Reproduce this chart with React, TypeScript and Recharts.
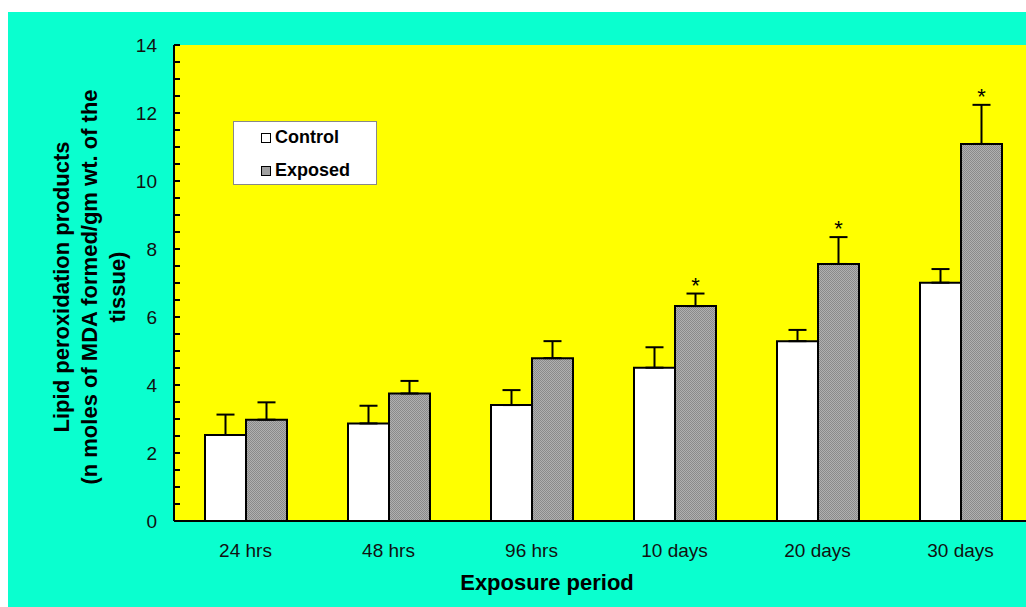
import { BarChart, Bar, XAxis, YAxis, CartesianGrid, ErrorBar, LabelList, Label } from "recharts";

// values
const categories = ['24 hrs', '48 hrs', '96 hrs', '10 days', '20 days', '30 days'];
const control = [2.53, 2.87, 3.41, 4.51, 5.29, 7.01];
const controlErr = [0.6, 0.52, 0.44, 0.6, 0.33, 0.4];
const exposed = [2.98, 3.75, 4.79, 6.32, 7.56, 11.09];
const exposedErr = [0.51, 0.37, 0.5, 0.37, 0.79, 1.15];
const significant = [false, false, false, true, true, true];
const yTicks = [0, 0.5, 1, 1.5, 2, 2.5, 3, 3.5, 4, 4.5, 5, 5.5, 6, 6.5, 7, 7.5, 8, 8.5, 9, 9.5, 10, 10.5, 11, 11.5, 12, 12.5, 13, 13.5, 14];
const yLabelLines = ['Lipid peroxidation products', '(n moles of MDA formed/gm wt. of the', 'tissue)'];
const legendItems = [
  { name: 'Control', fill: '#fff' },
  { name: 'Exposed', fill: '#a0a0a0' },
];

const data = categories.map((name, i) => ({
  name,
  control: control[i],
  controlErr: [0, controlErr[i]],
  exposed: exposed[i],
  exposedErr: [0, exposedErr[i]],
}));

const FONT = 'Arial, "Liberation Sans", sans-serif';

const YTick = (props: any) => {
  const { x, y, payload } = props;
  const major = payload.value % 2 === 0;
  return (
    <g>
      <line x1={x} x2={x + 6} y1={y} y2={y} stroke="#000" strokeWidth={2} />
      {major && (
        <text x={x - 17} y={y} dy="0.35em" textAnchor="end" fontSize={19} fontFamily={FONT} fill="#111">
          {payload.value}
        </text>
      )}
    </g>
  );
};

const Star = (props: any) => {
  const { x, y, width, height, value, index } = props;
  if (!significant[index]) return null;
  const errTop = y - (exposedErr[index] * height) / value;
  return (
    <text x={x + width / 2} y={errTop - 1} textAnchor="middle" fontSize={22} fontFamily={FONT} fill="#000">
      *
    </text>
  );
};

const LegendBox = () => (
  <div style={{ position: 'absolute', left: 225, top: 109, width: 142, height: 62, background: '#fff', border: '1px solid #888', fontFamily: FONT, fontWeight: 'bold', fontSize: 18, color: '#000' }}>
    {legendItems.map((it, i) => (
      <div key={it.name} style={{ display: 'flex', alignItems: 'center', position: 'absolute', left: 27, top: 5 + i * 33 }}>
        <span style={{ width: 8, height: 8, border: '1px solid #000', background: it.fill, marginRight: 4 }} />
        {it.name}
      </div>
    ))}
  </div>
);

export default function App() {
  return (
    <div style={{ position: 'fixed', left: 8, top: 12, width: 1018, height: 595, overflow: 'hidden', background: '#0AFFCF' }}>
      <BarChart width={1040} height={595} data={data} margin={{ top: 33, right: 16, bottom: 46, left: 106 }} barGap={0} barSize={41}>
        <defs>
          <pattern id="dots" width={2} height={2} patternUnits="userSpaceOnUse">
            <rect width={2} height={2} fill="#b0b0b0" />
            <rect width={1} height={1} fill="#8a8a8a" />
            <rect x={1} y={1} width={1} height={1} fill="#8a8a8a" />
          </pattern>
        </defs>
        <CartesianGrid horizontal={false} vertical={false} fill="#FFFF00" />
        <XAxis
          dataKey="name"
          tickLine={false}
          tickSize={0}
          tickMargin={23}
          height={40}
          axisLine={{ stroke: '#000', strokeWidth: 2 }}
          tick={{ fontSize: 19, fontFamily: FONT, fill: '#111' }}
        >
          <Label
            content={() => (
              <text x={539} y={570} dy="0.35em" textAnchor="middle" fontSize={22} fontWeight="bold" fontFamily={FONT} fill="#000">
                Exposure period
              </text>
            )}
          />
        </XAxis>
        <YAxis
          domain={[0, 14]}
          ticks={yTicks}
          interval={0}
          width={60}
          tickSize={0}
          tickMargin={0}
          tickLine={false}
          axisLine={{ stroke: '#000', strokeWidth: 2 }}
          tick={<YTick />}
        >
          <Label
            content={() => (
              <g>
                {yLabelLines.map((line, i) => {
                  const cx = 53 + i * 28;
                  return (
                    <text key={i} x={cx} y={275} dy="0.35em" textAnchor="middle" fontSize={22} fontWeight="bold" fontFamily={FONT} fill="#000" transform={`rotate(-90, ${cx}, 275)`}>
                      {line}
                    </text>
                  );
                })}
              </g>
            )}
          />
        </YAxis>
        <Bar dataKey="control" name="Control" fill="#fff" stroke="#000" strokeWidth={2} isAnimationActive={false}>
          <ErrorBar dataKey="controlErr" width={9} stroke="#000" strokeWidth={2} direction="y" />
        </Bar>
        <Bar dataKey="exposed" name="Exposed" fill="url(#dots)" stroke="#000" strokeWidth={2} isAnimationActive={false}>
          <ErrorBar dataKey="exposedErr" width={9} stroke="#000" strokeWidth={2} direction="y" />
          <LabelList dataKey="exposed" content={<Star />} />
        </Bar>
      </BarChart>
      <LegendBox />
    </div>
  );
}
